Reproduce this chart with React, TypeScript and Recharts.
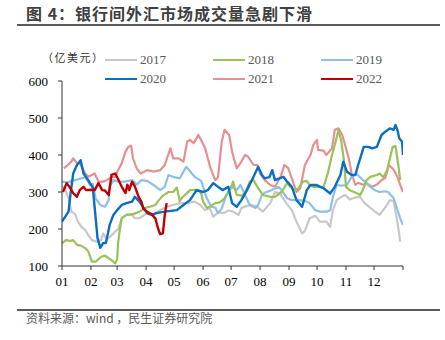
import React from 'react';
import { LineChart, Line, XAxis, YAxis } from 'recharts';

const monthStarts = [0, 31, 59, 90, 120, 151, 181, 212, 243, 273, 304, 334, 365];
const monthLabels = ['01', '02', '03', '04', '05', '06', '07', '08', '09', '10', '11', '12', ''];
const yTicks = [100, 200, 300, 400, 500, 600];

const s2017: [number, number][] = [[0,314],[3,310],[7,283],[10,247],[14,240],[17,220],[21,205],[25,197],[28,184],[32,170],[37,166],[42,170],[44,188],[48,172],[51,178],[57,193],[60,200],[64,229],[69,238],[75,238],[78,229],[83,229],[91,243],[94,238],[98,238],[105,251],[112,260],[119,265],[126,270],[134,270],[142,274],[148,265],[153,251],[158,257],[162,233],[167,245],[173,243],[178,250],[183,247],[189,238],[192,257],[201,265],[208,262],[215,247],[223,270],[228,300],[233,297],[240,270],[246,251],[251,220],[257,188],[260,195],[265,229],[271,236],[276,220],[283,220],[287,206],[290,251],[294,278],[298,285],[303,292],[308,280],[314,285],[319,287],[324,270],[330,257],[335,247],[340,238],[348,265],[351,278],[355,275],[358,233],[360,202],[362,166]];

const s2018: [number, number][] = [[0,161],[4,170],[9,168],[12,170],[16,157],[20,155],[25,148],[28,140],[32,112],[36,112],[42,125],[46,128],[50,121],[55,112],[57,107],[59,118],[60,161],[62,200],[64,230],[69,238],[76,240],[83,247],[89,257],[94,260],[100,265],[103,276],[108,290],[114,300],[119,300],[123,312],[126,275],[128,283],[133,295],[137,305],[142,306],[146,305],[149,296],[151,274],[155,257],[158,260],[164,270],[169,272],[174,283],[178,300],[182,319],[183,328],[187,292],[192,290],[196,298],[201,328],[205,332],[210,310],[215,292],[223,287],[228,287],[235,300],[241,324],[245,312],[250,305],[253,310],[258,328],[262,330],[265,318],[269,314],[274,314],[280,314],[285,355],[289,400],[292,427],[296,468],[299,436],[302,382],[304,314],[308,305],[315,297],[319,292],[322,305],[326,332],[330,341],[337,346],[340,350],[344,340],[348,359],[351,391],[354,422],[357,424],[360,373],[362,332]];

const s2019: [number, number][] = [[0,328],[6,326],[14,332],[21,337],[25,340],[30,319],[33,322],[36,283],[41,265],[46,260],[50,278],[51,314],[55,332],[60,328],[67,328],[75,332],[80,320],[85,332],[91,330],[98,319],[105,305],[110,314],[114,346],[120,340],[126,337],[133,368],[137,356],[142,341],[149,330],[155,283],[160,260],[164,258],[167,243],[171,255],[176,292],[182,314],[187,305],[191,319],[196,292],[201,265],[207,257],[210,265],[214,292],[217,298],[224,305],[232,314],[235,305],[241,283],[246,278],[253,278],[260,276],[265,270],[271,251],[276,247],[283,247],[287,250],[290,287],[294,319],[299,317],[305,319],[310,341],[315,350],[319,340],[324,328],[330,314],[335,305],[340,300],[346,302],[349,300],[355,283],[358,260],[362,229],[365,211]];

const s2020: [number, number][] = [[0,220],[7,247],[9,292],[12,350],[16,373],[20,386],[23,350],[28,332],[33,311],[35,257],[38,176],[41,149],[44,162],[47,162],[51,211],[55,238],[59,251],[64,265],[69,270],[75,274],[78,287],[83,274],[91,243],[96,238],[101,243],[110,247],[123,251],[130,265],[137,278],[144,305],[151,300],[156,305],[162,324],[167,314],[172,305],[178,314],[182,270],[187,260],[192,278],[198,305],[205,341],[210,368],[214,346],[217,337],[222,340],[225,359],[228,332],[237,341],[241,328],[246,314],[251,278],[257,260],[262,305],[266,319],[272,319],[280,310],[287,296],[292,314],[298,346],[301,382],[305,355],[310,346],[314,346],[317,373],[323,422],[328,422],[332,418],[337,422],[342,454],[346,463],[351,472],[355,468],[357,481],[359,468],[361,445],[364,436],[365,400]];

const s2021: [number, number][] = [[2,364],[7,375],[10,382],[12,391],[16,378],[19,378],[25,350],[28,341],[32,346],[35,350],[39,328],[44,328],[48,332],[53,341],[57,341],[60,359],[64,378],[68,409],[71,422],[74,425],[76,391],[80,364],[84,350],[91,359],[98,355],[105,359],[110,373],[116,418],[119,391],[125,391],[130,382],[134,436],[137,441],[141,432],[146,454],[149,440],[153,420],[159,364],[164,332],[167,340],[171,436],[174,468],[179,454],[182,409],[187,364],[191,378],[196,400],[199,396],[205,373],[209,373],[212,350],[217,332],[223,319],[228,314],[234,341],[238,373],[242,365],[246,337],[251,300],[255,310],[260,373],[266,400],[269,427],[273,441],[274,414],[280,412],[283,400],[289,418],[292,468],[296,472],[300,454],[303,427],[307,391],[310,350],[314,319],[317,325],[323,319],[326,324],[332,314],[337,320],[342,332],[346,338],[350,373],[355,360],[359,341],[362,319],[365,300]];

const s2022: [number, number][] = [[1,300],[5,324],[9,310],[12,297],[16,287],[19,305],[23,314],[26,305],[30,306],[35,305],[39,324],[43,305],[46,304],[50,292],[53,346],[57,350],[60,335],[64,314],[68,297],[70,320],[72,305],[75,328],[78,315],[82,287],[85,274],[87,255],[92,245],[96,240],[100,228],[103,200],[105,186],[108,188],[110,238],[112,270]];

const series = [
  { name: '2017', color: '#C8C8C8', data: s2017, width: 2.2 },
  { name: '2018', color: '#9BC15A', data: s2018, width: 2.2 },
  { name: '2019', color: '#8CC0E8', data: s2019, width: 2.2 },
  { name: '2020', color: '#0A6FC2', data: s2020, width: 2.4 },
  { name: '2021', color: '#E59090', data: s2021, width: 2.2 },
  { name: '2022', color: '#C00000', data: s2022, width: 2.4 },
];
const drawOrder = ['2017', '2021', '2019', '2018', '2020', '2022'];

const serif = '"Liberation Serif", "Times New Roman", serif';
const cjk = '"Noto Sans CJK SC", "Noto Sans", sans-serif';

export default function App() {
  const toRows = (d: [number, number][]) => d.map(([day, v]) => ({ day, v }));
  const ordered = drawOrder.map((n) => series.find((s) => s.name === n)!);
  return (
    <div style={{ position: 'absolute', left: 0, top: 0, width: 445, height: 340, background: '#fff', overflow: 'hidden' }}>
      <div style={{ position: 'absolute', left: 26, top: 3, fontFamily: cjk, fontWeight: 700, fontSize: 16, letterSpacing: 1, color: '#404040', lineHeight: '20px', whiteSpace: 'nowrap' }}>
        图 4：银行间外汇市场成交量急剧下滑
      </div>
      <div style={{ position: 'absolute', left: 17, top: 24, width: 423, height: 2, background: '#5a5a5a' }} />
      <div style={{ position: 'absolute', left: 0, top: 0 }}>
        <LineChart width={445} height={340} margin={{ top: 81, right: 42, bottom: 44, left: 22 }}>
          <XAxis
            type="number"
            dataKey="day"
            domain={[0, 365]}
            ticks={monthStarts}
            tickFormatter={(v: number) => monthLabels[monthStarts.indexOf(v)] ?? ''}
            interval={0}
            height={30}
            tickSize={4}
            tickMargin={7}
            stroke="#333"
            tick={{ fill: '#000', fontSize: 13, fontFamily: serif }}
            allowDataOverflow
          />
          <YAxis
            type="number"
            domain={[100, 600]}
            ticks={yTicks}
            interval={0}
            width={40}
            tickSize={4}
            tickMargin={10}
            stroke="#333"
            tick={{ fill: '#000', fontSize: 13, fontFamily: serif }}
            allowDataOverflow
          />
          {ordered.map((s) => (
            <Line
              key={s.name}
              data={toRows(s.data)}
              dataKey="v"
              name={s.name}
              type="linear"
              stroke={s.color}
              strokeWidth={s.width}
              dot={false}
              activeDot={false}
              isAnimationActive={false}
              strokeLinejoin="round"
            />
          ))}
        </LineChart>
      </div>
      <div style={{ position: 'absolute', left: 42, top: 49, fontFamily: cjk, fontSize: 11, letterSpacing: 1.5, color: '#333', lineHeight: '16px', whiteSpace: 'nowrap' }}>
        （亿美元）
      </div>
      {series.map((s, i) => {
        const col = i % 3;
        const row = Math.floor(i / 3);
        const left = 105 + col * 108;
        const cy = 60 + row * 19;
        return (
          <div key={s.name} style={{ position: 'absolute', left, top: cy - 8, height: 16, display: 'flex', alignItems: 'center' }}>
            <div style={{ width: 32, height: 2.5, background: s.color }} />
            <span style={{ marginLeft: 3, fontFamily: serif, fontSize: 13, color: '#595959', lineHeight: '16px' }}>{s.name}</span>
          </div>
        );
      })}
      <div style={{ position: 'absolute', left: 17, top: 309, width: 423, height: 2, background: '#5a5a5a' }} />
      <div style={{ position: 'absolute', left: 26, top: 310, fontFamily: cjk, fontSize: 12, color: '#595959', lineHeight: '16px', whiteSpace: 'nowrap' }}>
        资料来源：wind ，民生证券研究院
      </div>
    </div>
  );
}
